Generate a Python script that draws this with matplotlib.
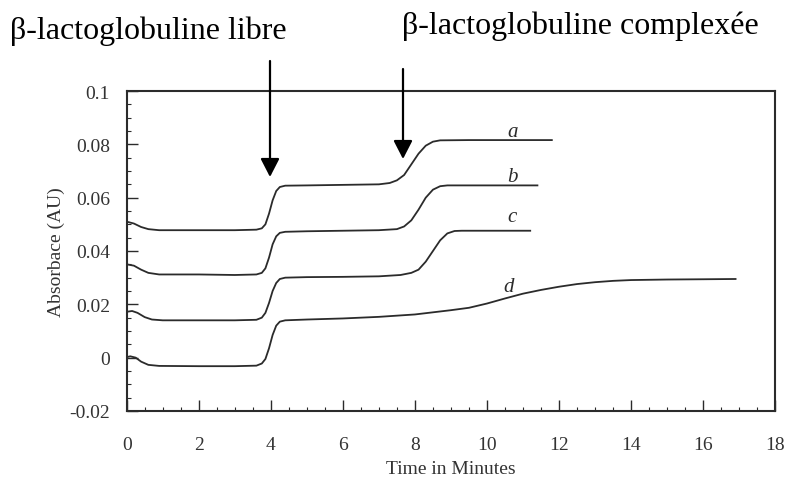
import matplotlib
matplotlib.use('Agg')
import matplotlib.pyplot as plt
from matplotlib.ticker import MultipleLocator

plt.rcParams['font.family'] = ['Liberation Serif', 'DejaVu Serif']

# curves (time in minutes, absorbance)
t_a = [0, 0.2, 0.4, 0.6, 0.9, 2.0, 3.0, 3.6, 3.75, 3.85, 3.95, 4.05, 4.15, 4.25, 4.4,
       5.0, 6.0, 7.0, 7.3, 7.5, 7.7, 7.9, 8.1, 8.3, 8.5, 8.7, 9.5, 11.8]
y_a = [0.0510, 0.0503, 0.0490, 0.0482, 0.0478, 0.0478, 0.0478, 0.0480, 0.0485, 0.0500,
       0.0540, 0.0590, 0.0625, 0.0640, 0.0645, 0.0646, 0.0648, 0.0650, 0.0655, 0.0665,
       0.0685, 0.0725, 0.0765, 0.0795, 0.0810, 0.0815, 0.0816, 0.0816]

t_b = [0, 0.2, 0.4, 0.6, 0.9, 2.0, 3.0, 3.6, 3.75, 3.85, 3.95, 4.05, 4.15, 4.25, 4.4,
       5.0, 6.0, 7.0, 7.5, 7.7, 7.9, 8.1, 8.3, 8.5, 8.7, 8.9, 9.5, 11.4]
y_b = [0.0350, 0.0345, 0.0330, 0.0318, 0.0312, 0.0312, 0.0310, 0.0312, 0.0318, 0.0335,
       0.0375, 0.0425, 0.0455, 0.0468, 0.0472, 0.0474, 0.0476, 0.0478, 0.0482, 0.0492,
       0.0515, 0.0555, 0.0600, 0.0630, 0.0643, 0.0646, 0.0646, 0.0646]

t_c = [0, 0.15, 0.3, 0.5, 0.7, 1.0, 3.0, 3.6, 3.75, 3.85, 3.95, 4.05, 4.15, 4.25, 4.4,
       5.0, 6.0, 7.0, 7.6, 7.9, 8.1, 8.3, 8.5, 8.7, 8.9, 9.1, 9.3, 10.0, 11.2]
y_c = [0.0172, 0.0175, 0.0168, 0.0152, 0.0143, 0.0140, 0.0140, 0.0142, 0.0150, 0.0168,
       0.0205, 0.0250, 0.0280, 0.0295, 0.0300, 0.0302, 0.0303, 0.0305, 0.0310, 0.0318,
       0.0330, 0.0360, 0.0400, 0.0440, 0.0466, 0.0475, 0.0476, 0.0476, 0.0476]

t_d = [0, 0.1, 0.25, 0.4, 0.6, 0.9, 2.0, 3.0, 3.6, 3.75, 3.85, 3.95, 4.05, 4.15, 4.25, 4.4,
       5.0, 6.0, 7.0, 8.0, 8.5, 9.0, 9.5, 10.0, 10.5, 11.0, 11.5, 12.0, 12.5, 13.0, 13.5,
       14.0, 15.0, 16.0, 16.9]
y_d = [0.0002, 0.0005, 0.0000, -0.0015, -0.0027, -0.0031, -0.0032, -0.0032, -0.0030,
       -0.0022, -0.0005, 0.0035, 0.0085, 0.0120, 0.0135, 0.0140, 0.0143, 0.0147, 0.0153,
       0.0162, 0.0170, 0.0178, 0.0187, 0.0203, 0.0222, 0.0240, 0.0254, 0.0266, 0.0276,
       0.0283, 0.0288, 0.0291, 0.0293, 0.0294, 0.0295]

curve_labels = ['a', 'b', 'c', 'd']
label_x = [10.7, 10.7, 10.7, 10.6]
label_y = [0.0850, 0.0678, 0.0530, 0.0268]

fig = plt.figure(figsize=(7.87, 4.81), dpi=100)
ax = fig.add_axes([0.161, 0.1435, 0.824, 0.6652])

ink = '#2b2b2b'
for t, y in [(t_a, y_a), (t_b, y_b), (t_c, y_c), (t_d, y_d)]:
    ax.plot(t, y, color=ink, lw=1.3)

for lab, x, y in zip(curve_labels, label_x, label_y):
    ax.text(x, y, lab, style='italic', fontsize=15, color=ink, ha='center', va='center')

ax.set_xlim(0, 18)
ax.set_ylim(-0.02, 0.1)
ax.xaxis.set_major_locator(MultipleLocator(2))
ax.xaxis.set_minor_locator(MultipleLocator(0.5))
ax.yaxis.set_major_locator(MultipleLocator(0.02))
ax.yaxis.set_minor_locator(MultipleLocator(0.005))
ax.set_yticks([-0.02, 0, 0.02, 0.04, 0.06, 0.08, 0.1])
ax.set_yticklabels(['-0.02', '0', '0.02', '0.04', '0.06', '0.08', '0.1'])

ax.tick_params(which='both', direction='in', color=ink, labelcolor='#333333', labelsize=14)
ax.tick_params(which='major', length=8, width=1.0)
ax.tick_params(which='minor', length=3, width=0.8)
ax.tick_params(axis='x', pad=18)
ax.tick_params(axis='y', pad=12)
for s in ax.spines.values():
    s.set_color(ink)
    s.set_linewidth(1.5)

ax.set_xlabel('Time in Minutes', fontsize=14, color='#333333', labelpad=5)
ax.set_ylabel('Absorbace (AU)', fontsize=14, color='#333333', labelpad=3)

# arrows and headings above the plot
arrow = dict(arrowstyle='-|>,head_length=0.7,head_width=0.36', mutation_scale=16,
             color='black', lw=1.6, shrinkA=0, shrinkB=0)
ax.annotate('', xy=(270 / 787, 1 - 178 / 481), xytext=(270 / 787, 1 - 62 / 481),
            xycoords='figure fraction', arrowprops=arrow)
ax.annotate('', xy=(403 / 787, 1 - 160 / 481), xytext=(403 / 787, 1 - 70 / 481),
            xycoords='figure fraction', arrowprops=arrow)

fig.text(10 / 787, 1 - 31.5 / 481, 'β-lactoglobuline libre', fontsize=23,
         ha='left', va='center')
fig.text(402 / 787, 1 - 26.5 / 481, 'β-lactoglobuline complexée', fontsize=23,
         ha='left', va='center')

fig.savefig('out.png', dpi=100)
